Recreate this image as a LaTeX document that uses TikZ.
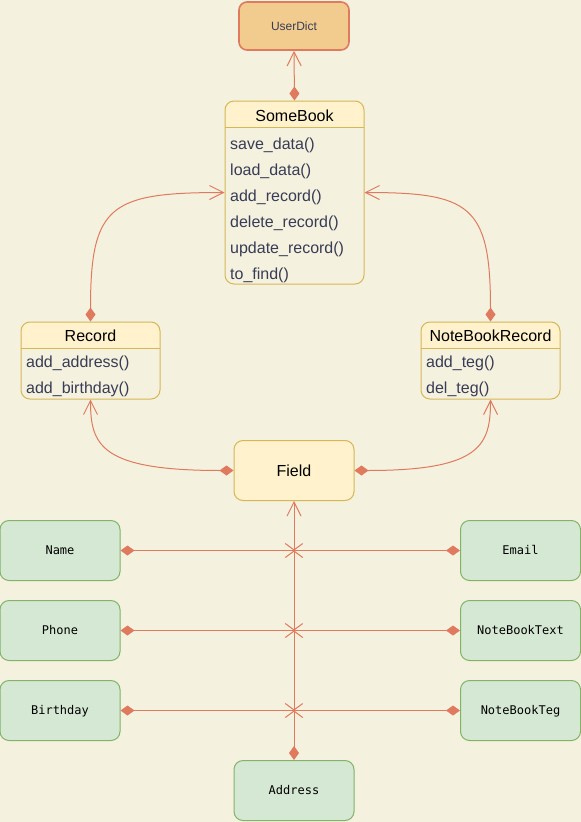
\documentclass[tikz,border=0pt]{standalone}
\usepackage{fontspec}
\setmainfont{Liberation Sans}
\newfontfamily\monofont{DejaVu Sans Mono}
\usetikzlibrary{arrows.meta}
\definecolor{bgc}{HTML}{F4F1DE}
\definecolor{edgec}{HTML}{E07A5F}
\definecolor{udfill}{HTML}{F2CC8F}
\definecolor{hdrfill}{HTML}{FFF2CC}
\definecolor{hdrline}{HTML}{D6B656}
\definecolor{grfill}{HTML}{D5E8D4}
\definecolor{grline}{HTML}{82B366}
\definecolor{itemc}{HTML}{393C56}
\begin{document}
\begin{tikzpicture}[x=1pt,y=-1pt,
  conn/.style={draw=edgec, line width=1pt, {Diamond[length=14pt,width=10pt]}-{Straight Barb[length=14pt,width=14pt]}},
  jconn/.style={draw=edgec, line width=1pt, {Diamond[length=14pt,width=10pt]}-{Straight Barb[length=9.5pt,width=14pt]}, shorten >=-1.6pt},
  classbox/.style={draw=hdrline, line width=1pt, rounded corners=9pt, minimum width=139pt},
  classline/.style={draw=hdrline, line width=1pt},
  ctitle/.style={anchor=base, font=\fontsize{16}{19}\selectfont, text=black, inner sep=0pt},
  citem/.style={anchor=base west, font=\fontsize{16}{19}\selectfont, text=itemc, inner sep=0pt},
  greenbox/.style={draw=grline, fill=grfill, line width=1pt, rounded corners=9pt, minimum width=120pt, minimum height=60pt, font=\monofont\fontsize{12}{14}\selectfont, text height=8.6pt, text depth=0pt},
  udbox/.style={draw=edgec, fill=udfill, line width=1.6pt, rounded corners=8pt, minimum width=110pt, minimum height=48pt, font=\fontsize{12}{14}\selectfont, text=itemc, text height=8.6pt, text depth=0pt},
  fieldbox/.style={draw=hdrline, fill=hdrfill, line width=1pt, rounded corners=9pt, minimum width=120pt, minimum height=60pt, font=\fontsize{16}{19}\selectfont, text height=11.5pt, text depth=0pt}
]
\useasboundingbox (0,0) rectangle (581,822);
\fill[bgc] (0,0) rectangle (581,822);

% UserDict
\node[udbox] (ud) at (294,26) {UserDict};

% SomeBook
\begin{scope}
  \clip (225,101) rectangle (364,127);
  \fill[hdrfill, rounded corners=9pt] (225,101) rectangle (364,284);
\end{scope}
\node[classbox, minimum height=183pt] (sb) at (294.5,192.5) {};
\draw[classline] (225,127) -- (364,127);
\node[ctitle] (sbt) at (294.5,121) {SomeBook};
\node[citem] (sb1) at (230,149) {save\_data()};
\node[citem] (sb2) at (230,175) {load\_data()};
\node[citem] (sb3) at (230,201) {add\_record()};
\node[citem] (sb4) at (230,227) {delete\_record()};
\node[citem] (sb5) at (230,253) {update\_record()};
\node[citem] (sb6) at (230,279) {to\_find()};

% Record
\begin{scope}
  \clip (21,322) rectangle (160,348);
  \fill[hdrfill, rounded corners=9pt] (21,322) rectangle (160,399);
\end{scope}
\node[classbox, minimum height=77pt] (rec) at (90.5,360.5) {};
\draw[classline] (21,348) -- (160,348);
\node[ctitle] (rect) at (90.5,341) {Record};
\node[citem] (rec1) at (26,367) {add\_address()};
\node[citem] (rec2) at (26,393) {add\_birthday()};

% NoteBookRecord
\begin{scope}
  \clip (421,322) rectangle (560,348);
  \fill[hdrfill, rounded corners=9pt] (421,322) rectangle (560,399);
\end{scope}
\node[classbox, minimum height=77pt] (nbr) at (490.5,360.5) {};
\draw[classline] (421,348) -- (560,348);
\node[ctitle] (nbrt) at (490.5,341) {NoteBookRecord};
\node[citem] (nbr1) at (426,367) {add\_teg()};
\node[citem] (nbr2) at (426,393) {del\_teg()};

% Field
\node[fieldbox] (fld) at (294,470.5) {Field};

% green boxes
\node[greenbox] (name) at (60,550.5) {Name};
\node[greenbox] (email) at (520.5,550.5) {Email};
\node[greenbox] (phone) at (60,630.5) {Phone};
\node[greenbox] (nbtext) at (520.5,630.5) {NoteBookText};
\node[greenbox] (bday) at (60,710.5) {Birthday};
\node[greenbox] (nbteg) at (520.5,710.5) {NoteBookTeg};
\node[greenbox] (addr) at (294,790.5) {Address};

\coordinate (j1) at (294,550.5);
\coordinate (j2) at (294,630.5);
\coordinate (j3) at (294,710.5);

% connectors
\draw[conn] (sb.north) -- (ud.south);
\draw[conn] (rec.north) .. controls (90.5,205) and (110,192.5) .. (sb.west);
\draw[conn] (nbr.north) .. controls (490.5,205) and (470,192.5) .. (sb.east);
\draw[conn] (fld.west) .. controls (100,470.5) and (90.5,445) .. (rec.south);
\draw[conn] (fld.east) .. controls (481,470.5) and (490.5,445) .. (nbr.south);
\draw[conn] (addr.north) -- (fld.south);
\draw[jconn] (name.east) -- (j1);
\draw[jconn] (email.west) -- (j1);
\draw[jconn] (phone.east) -- (j2);
\draw[jconn] (nbtext.west) -- (j2);
\draw[jconn] (bday.east) -- (j3);
\draw[jconn] (nbteg.west) -- (j3);
\end{tikzpicture}
\end{document}
